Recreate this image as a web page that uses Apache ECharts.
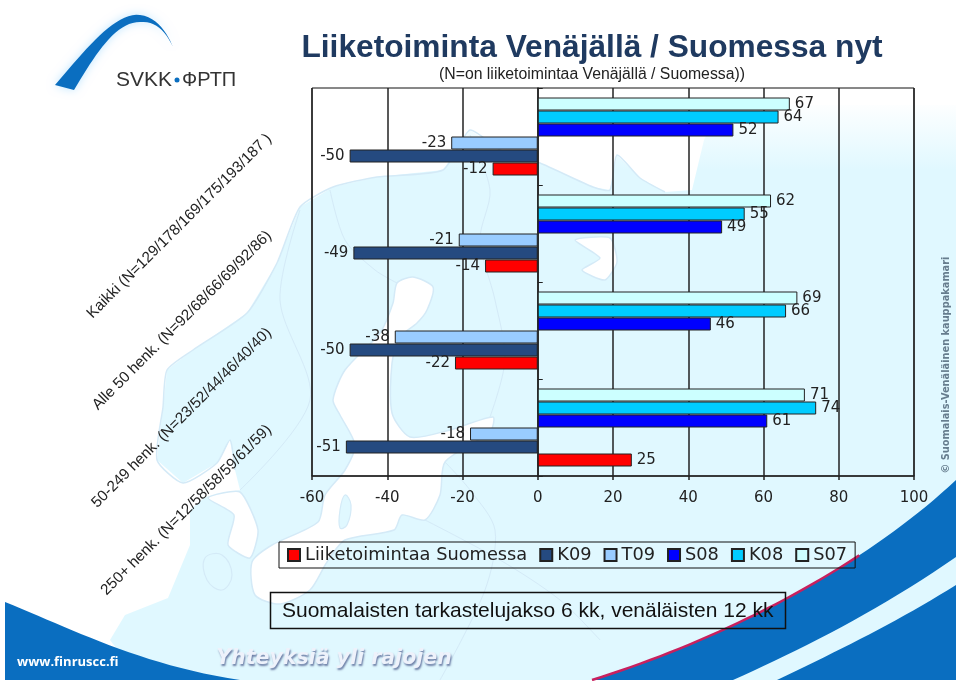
<!DOCTYPE html>
<html>
<head>
<meta charset="utf-8">
<style>html,body{margin:0;padding:0;background:#fff}#c{width:960px;height:681px}</style>
<script src="https://cdn.jsdelivr.net/npm/echarts@6/dist/echarts.min.js"></script>
</head>
<body>
<div id="c"></div>
<script>
const categories = ['Kaikki (N=129/178/169/175/193/187 )','Alle 50 henk. (N=92/68/66/69/92/86)','50-249 henk. (N=23/52/44/46/40/40)','250+ henk. (N=12/58/58/59/61/59)'];
const S07 = [67,62,69,71];
const K08 = [64,55,66,74];
const S08 = [52,49,46,61];
const T09 = [-23,-21,-38,-18];
const K09 = [-50,-49,-50,-51];
const SUOMI = [-12,-14,-22,25];
const legendNames = ['Liiketoimintaa Suomessa','K09','T09','S08','K08','S07'];
const titleText = 'Liiketoiminta Venäjällä / Suomessa nyt';
const subText = '(N=on liiketoimintaa Venäjällä / Suomessa))';
const noteText = 'Suomalaisten tarkastelujakso 6 kk, venäläisten 12 kk';

const ink = '#222222';
const sans = '"Liberation Sans", Arial, sans-serif';
const wide = '"DejaVu Sans", sans-serif';
const seaLine = '#d4eaf7';
const pale = '#e0f8ff';
const brand = '#0a6ec0';

// decorative curve helper (background artwork only, no chart data)
const curve = (p0, p1, p2, p3, n) => {
  const out = [];
  for (let i = 0; i <= n; i++) {
    const t = i / n, u = 1 - t;
    out.push([u*u*u*p0[0] + 3*u*u*t*p1[0] + 3*u*t*t*p2[0] + t*t*t*p3[0],
              u*u*u*p0[1] + 3*u*u*t*p1[1] + 3*u*t*t*p2[1] + t*t*t*p3[1]]);
  }
  return out;
};

const landPts = [[956,105],[722,105],[704,140],[692,190],[665,192],[640,178],[617,155],[610,190],[593,187],[540,163],[500,150],[470,130],[443,170],[377,177],[333,187],[300,207],[277,263],[247,313],[193,350],[167,370],[163,407],[157,460],[183,483],[217,463],[230,440],[235,470],[240,490],[205,497],[190,510],[190,545],[168,598],[125,615],[110,640],[125,660],[213,680],[956,680]];
const bothnia = [[413,277],[433,287],[427,310],[417,323],[400,337],[392,363],[392,413],[410,437],[450,430],[493,417],[490,432],[445,462],[440,495],[425,520],[402,515],[394,530],[345,540],[327,562],[310,590],[280,604],[255,595],[252,562],[272,545],[318,522],[325,495],[345,470],[355,445],[340,415],[333,400],[345,370],[380,333],[393,303],[397,283]];
const kattegat = [[240,492],[258,530],[250,558],[228,545],[234,515],[208,498]];
const whiteSea = [[575,240],[610,238],[617,262],[605,280],[582,270],[600,258]];
const lakeA = [[345,495],[351,505],[347,525],[340,528],[340,510]];
const lakeB = [[205,558],[222,555],[232,575],[222,590],[207,580]];
const borders = [
  [[470,135],[490,190],[480,240],[495,300],[505,360],[490,417]],
  [[330,190],[345,240],[375,270],[397,283]],
  [[445,462],[470,490],[495,530],[485,590],[440,680]],
  [[425,520],[500,560],[560,600],[600,640]],
  [[300,210],[280,300],[310,400],[240,490]]
];
const swooshL = curve([5,602],[70,628],[140,665],[240,680],24).concat([[5,680]]);
const swooshRTop = curve([592,680],[720,640],[860,570],[956,480],40);
const swooshR = swooshRTop.concat([[956,680]]);
const swooshEdge = swooshRTop.slice(0,29);
const stripe = curve([733,680],[800,650],[880,610],[956,557],20).concat(curve([956,585],[900,620],[840,650],[777,680],20));
const logoArc = curve([55,85],[85,50],[115,12],[140,15],20)
  .concat(curve([140,15],[158,17],[168,35],[173,47],12))
  .concat(curve([173,47],[165,30],[155,21],[140,22],12))
  .concat(curve([140,22],[115,22],[95,55],[74,90],20));

const poly = (points, style, smooth) => ({type:'polygon', silent:true, z:-5, shape:{points, smooth:smooth||0}, style});
const line = (points, stroke, lineWidth, smooth) => ({type:'polyline', silent:true, z:-5, shape:{points, smooth:smooth||0}, style:{stroke, lineWidth, fill:null}});
const seaStyle = {fill:'#ffffff', stroke:seaLine, lineWidth:1.5};
const label = (x, y, text, font, fill, extra) => Object.assign({type:'text', silent:true, z:-4, x, y, style:Object.assign({text, font, fill, textAlign:'left', textVerticalAlign:'middle'}, extra||{})});

const graphicEls = [
  poly(landPts, {fill:{type:'linear',x:0,y:100,x2:0,y2:170,global:true,colorStops:[{offset:0,color:'#ffffff'},{offset:1,color:pale}]}, stroke:null}),
  line(landPts.slice(4,26), seaLine, 1.5, 0.2),
  poly(bothnia, seaStyle, 0.25),
  poly(kattegat, seaStyle, 0.2),
  poly(whiteSea, seaStyle, 0.2),
  poly(lakeA, {fill:pale, stroke:seaLine, lineWidth:1.2}, 0.4),
  poly(lakeB, {fill:pale, stroke:seaLine, lineWidth:1.2}, 0.4)
].concat(borders.map(b => line(b, seaLine, 1, 0.3))).concat([
  poly(swooshL, {fill:brand}),
  poly(swooshR, {fill:brand}),
  poly(stripe, {fill:pale}),
  line(swooshEdge, '#c8205e', 2.5, 0),
  poly(logoArc, {fill:brand, shadowBlur:10, shadowColor:'#bfe6ff'}),
  label(116, 80, 'SVKK', '21px '+sans, '#333333'),
  {type:'circle', silent:true, z:-4, shape:{cx:177, cy:80, r:2.5}, style:{fill:brand}},
  label(182, 80, 'ФРТП', '20px '+sans, '#333333'),
  label(17, 662, 'www.finruscc.fi', 'bold 13px "Open Sans", sans-serif', '#ffffff'),
  label(334, 659, 'Yhteyksiä yli rajojen', 'italic bold 20.5px '+wide, '#eef2fb', {textAlign:'center', textShadowColor:'#6c7ea6', textShadowBlur:2, textShadowOffsetX:1, textShadowOffsetY:2}),
  Object.assign(label(946, 365, '© Suomalais-Venäläinen kauppakamari', 'bold 9.8px '+wide, '#667d8e', {textAlign:'center'}), {rotation:Math.PI/2}),
  {type:'rect', silent:true, z:5, shape:{x:270.5, y:592.5, width:515, height:36}, style:{fill:'rgba(255,255,255,0)', stroke:'#111111', lineWidth:1.5}},
  {type:'text', silent:true, z:6, x:282, y:611, style:{text:noteText, font:'21px '+sans, fill:'#111111', textAlign:'left', textVerticalAlign:'middle'}}
]);

const colors = {S07:'#ccffff', K08:'#00ccff', S08:'#0000ff', T09:'#99ccff', K09:'#254a80', SUOMI:'#ff0000'};
const mkBar = (name, data, color) => ({
  name, type:'bar', data, barWidth:13, barGap:0, barCategoryGap:'19.6%',
  itemStyle:{color, borderColor:ink, borderWidth:1},
  label:{show:true, position:'outside', distance:5, color:ink, fontFamily:wide, fontSize:15},
  emphasis:{disabled:true}, animation:false
});

const chart = echarts.init(document.getElementById('c'), null, {renderer:'canvas'});
chart.setOption({
  animation:false,
  backgroundColor:'#ffffff',
  title:{text:titleText, subtext:subText, left:587, top:27, textAlign:'center', itemGap:3,
    textStyle:{fontFamily:sans, fontWeight:'bold', fontSize:31.7, color:'#1f3a60'},
    subtextStyle:{fontFamily:sans, fontSize:15.8, color:'#222222'}},
  grid:{left:312, right:46, top:88, bottom:205, show:true, borderColor:'#111111', borderWidth:1, backgroundColor:'transparent'},
  legend:{left:279, top:542, padding:[4,8,4,8], itemWidth:12, itemHeight:12, itemGap:12, icon:'rect', borderColor:'#111111', borderWidth:1, backgroundColor:'transparent',
    data:legendNames, textStyle:{fontFamily:wide, fontSize:17.8, color:ink}, selectedMode:false},
  xAxis:{type:'value', min:-60, max:100, interval:20,
    axisLine:{show:true, onZero:false, lineStyle:{color:ink, width:1.5}},
    axisTick:{show:true, length:4, lineStyle:{color:ink, width:1.5}},
    axisLabel:{color:ink, fontFamily:wide, fontSize:15, margin:15},
    splitLine:{show:true, lineStyle:{color:ink, width:1.5}}},
  yAxis:[
    {type:'category', data:categories, inverse:true, position:'left',
      axisLine:{show:false, onZero:false}, axisTick:{show:false},
      axisLabel:{rotate:45, margin:43, color:ink, fontFamily:sans, fontSize:15.3, hideOverlap:false, interval:0}},
    {type:'category', data:categories, inverse:true,
      axisLine:{show:true, onZero:true, lineStyle:{color:ink, width:1.5}},
      axisTick:{show:true, length:5, inside:false, lineStyle:{color:ink, width:1}},
      axisLabel:{show:false}}
  ],
  graphic:{elements:graphicEls},
  series:[
    mkBar('S07', S07, colors.S07),
    mkBar('K08', K08, colors.K08),
    mkBar('S08', S08, colors.S08),
    mkBar('T09', T09, colors.T09),
    mkBar('K09', K09, colors.K09),
    mkBar(legendNames[0], SUOMI, colors.SUOMI)
  ]
});
</script>
</body>
</html>
